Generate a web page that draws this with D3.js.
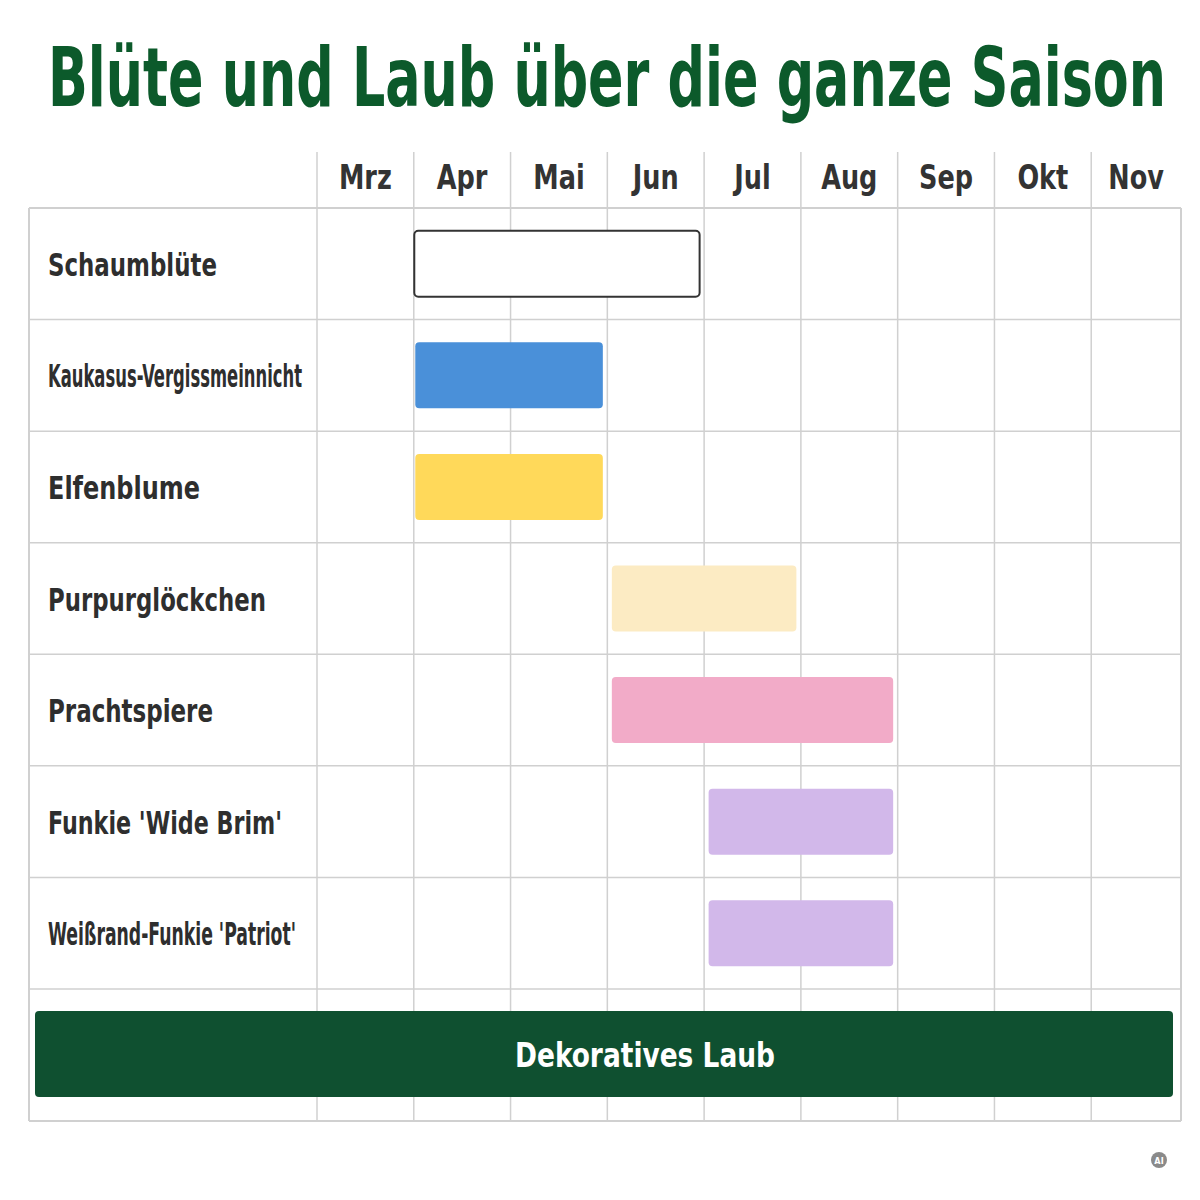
<!DOCTYPE html>
<html>
<head>
<meta charset="utf-8">
<script src="https://cdn.jsdelivr.net/npm/d3@7"></script>
<style>
  html, body { margin: 0; padding: 0; background: #ffffff; }
  svg { display: block; }
  text { font-family: 'DejaVu Sans', 'Liberation Sans Narrow', sans-serif; font-stretch: condensed; }
</style>
</head>
<body>
<svg id="chart" width="1200" height="1200"></svg>
<script>
// ---- data ----
const titleText = "Blüte und Laub über die ganze Saison";
const months = ["Mrz", "Apr", "Mai", "Jun", "Jul", "Aug", "Sep", "Okt", "Nov"];
const plants = ["Schaumblüte", "Kaukasus-Vergissmeinnicht", "Elfenblume", "Purpurglöckchen", "Prachtspiere", "Funkie 'Wide Brim'", "Weißrand-Funkie 'Patriot'"];
const bloomStart = ["Apr", "Apr", "Apr", "Jun", "Jun", "Jul", "Jul"];
const bloomEnd   = ["Jun", "Mai", "Mai", "Jul", "Aug", "Aug", "Aug"];
const bloomColors = ["#ffffff", "#4a90d9", "#ffd95a", "#fcebc3", "#f2abc8", "#d2b8ea", "#d2b8ea"];
const foliageLabel = "Dekoratives Laub";
const foliageStart = "Mrz";
const foliageEnd = "Nov";

// ---- layout ----
const svg = d3.select("#chart");
const gridLeft = 29, gridRight = 1181, labelColRight = 317;
const headerTop = 152, headerBottom = 208, rowsBottom = 989, gridBottom = 1121;

const x = d3.scaleBand().domain(months).range([labelColRight, 1188]).padding(0);
const y = d3.scaleBand().domain(plants).range([headerBottom, rowsBottom]).padding(0);

// title
svg.append("text")
  .attr("x", 48).attr("y", 106)
  .attr("font-size", 82).attr("font-weight", 700)
  .attr("fill", "#0c5a2b")
  .attr("textLength", 1118).attr("lengthAdjust", "spacingAndGlyphs")
  .text(titleText);

const gridColor = "#d0d0d0";
const g = svg.append("g");

// vertical month lines
const bounds = months.map(m => x(m));
g.selectAll("line.v").data(bounds).join("line")
  .attr("x1", d => d).attr("x2", d => d)
  .attr("y1", headerTop).attr("y2", gridBottom)
  .attr("stroke", gridColor).attr("stroke-width", 1.5);
// left and right borders
g.append("line").attr("x1", gridLeft).attr("x2", gridLeft).attr("y1", headerBottom).attr("y2", gridBottom)
  .attr("stroke", gridColor).attr("stroke-width", 2);
g.append("line").attr("x1", gridRight).attr("x2", gridRight).attr("y1", headerBottom).attr("y2", gridBottom)
  .attr("stroke", gridColor).attr("stroke-width", 2);
// horizontal lines
const hLines = plants.map(p => y(p)).concat([rowsBottom, gridBottom]);
g.selectAll("line.h").data(hLines).join("line")
  .attr("x1", gridLeft).attr("x2", gridRight)
  .attr("y1", d => d).attr("y2", d => d)
  .attr("stroke", gridColor).attr("stroke-width", (d, i) => (i === 0 || i === hLines.length - 1) ? 2 : 1.5);

// month header labels
const colCenter = m => {
  const x0 = x(m), x1 = Math.min(x(m) + x.bandwidth(), gridRight);
  return (x0 + x1) / 2;
};
svg.selectAll("text.month").data(months).join("text")
  .attr("class", "month")
  .attr("x", d => colCenter(d))
  .attr("y", 189)
  .attr("text-anchor", "middle")
  .attr("font-size", 33).attr("font-weight", 700)
  .attr("fill", "#333333")
  .text(d => d)
  .each(function () {
    const w = this.getComputedTextLength();
    d3.select(this).attr("textLength", w * 0.86).attr("lengthAdjust", "spacingAndGlyphs");
  });

// row labels
const labelWidths = [169, 254, 152, 218, 165, 234, 248];
svg.selectAll("text.plant").data(plants).join("text")
  .attr("class", "plant")
  .attr("x", 48)
  .attr("y", d => y(d) + y.bandwidth() / 2 + 12)
  .attr("font-size", 32).attr("font-weight", 700)
  .attr("fill", "#2e2e2e")
  .attr("textLength", (d, i) => labelWidths[i]).attr("lengthAdjust", "spacingAndGlyphs")
  .text(d => d);

// bloom bars
const barH = 66;
const bars = plants.map((p, i) => ({ p, s: bloomStart[i], e: bloomEnd[i], c: bloomColors[i], i }));
const bx0 = d => x(d.s) + (d.i === 0 ? 0.5 : (d.s === "Apr" ? 1.5 : 4.5));
svg.selectAll("rect.bloom").data(bars).join("rect")
  .attr("class", "bloom")
  .attr("x", d => bx0(d))
  .attr("width", d => x(d.e) + x.bandwidth() - 4.5 - bx0(d))
  .attr("y", d => y(d.p) + (y.bandwidth() - barH) / 2)
  .attr("height", barH)
  .attr("rx", 4).attr("ry", 4)
  .attr("fill", d => d.c)
  .attr("stroke", d => d.i === 0 ? "#333333" : "none")
  .attr("stroke-width", 2);

// foliage bar (spans the whole table width)
const fx0 = gridLeft + 6;
const fx1 = gridRight - 8;
svg.append("rect")
  .attr("x", fx0).attr("y", 1011)
  .attr("width", fx1 - fx0).attr("height", 86)
  .attr("rx", 4).attr("ry", 4)
  .attr("fill", "#0f5030");
svg.append("text")
  .attr("x", 645).attr("y", 1067)
  .attr("text-anchor", "middle")
  .attr("font-size", 34).attr("font-weight", 700)
  .attr("fill", "#ffffff")
  .attr("textLength", 260).attr("lengthAdjust", "spacingAndGlyphs")
  .text(foliageLabel);

// small AI badge
svg.append("circle").attr("cx", 1159).attr("cy", 1160).attr("r", 8).attr("fill", "#8a8a8a");
svg.append("text").attr("x", 1159).attr("y", 1163.5).attr("text-anchor", "middle")
  .attr("font-size", 9).attr("font-weight", 700).attr("fill", "#ffffff").text("AI");
</script>
</body>
</html>
